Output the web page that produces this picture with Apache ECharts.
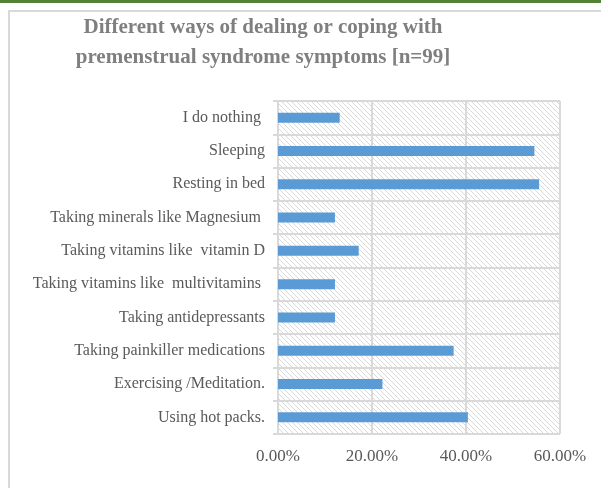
<!DOCTYPE html>
<html>
<head>
<meta charset="utf-8">
<script src="https://cdn.jsdelivr.net/npm/echarts@6/dist/echarts.min.js"></script>
<style>
html,body{margin:0;padding:0;background:#fff;}
#c{width:601px;height:488px;}
</style>
</head>
<body>
<div id="c"></div>
<script>
// Data (top category first as in the picture)
var categories = [
  'I do nothing ',
  'Sleeping',
  'Resting in bed',
  'Taking minerals like Magnesium ',
  'Taking vitamins like  vitamin D',
  'Taking vitamins like  multivitamins ',
  'Taking antidepressants',
  'Taking painkiller medications',
  'Exercising /Meditation.',
  'Using hot packs.'
];
var values = [13.13, 54.55, 55.56, 12.12, 17.17, 12.12, 12.12, 37.37, 22.22, 40.40];
var xTicks = [0, 20, 40, 60];

// hatch pattern
var pc = document.createElement('canvas');
pc.width = 5; pc.height = 5;
var g = pc.getContext('2d');
g.strokeStyle = '#d9d9d9';
g.lineWidth = 1;
g.beginPath();
g.moveTo(-1, -1); g.lineTo(6, 6);
g.moveTo(-1, 4); g.lineTo(1, 6);
g.moveTo(4, -1); g.lineTo(6, 1);
g.stroke();

var chart = echarts.init(document.getElementById('c'));
var font = '"Liberation Serif", "Times New Roman", serif';
chart.setOption({
  animation: false,
  title: {
    text: 'Different ways of dealing or coping with\npremenstrual syndrome symptoms [n=99]',
    left: 263, top: 13, textAlign: 'center', padding: 0,
    textStyle: {fontFamily: font, fontSize: 21, fontWeight: 'bold', color: '#7f7f7f', lineHeight: 30}
  },
  graphic: [
    {type: 'rect', shape: {x: 0, y: 0, width: 601, height: 3}, style: {fill: '#548235'}},
    {type: 'rect', shape: {x: 9, y: 11, width: 620, height: 500}, style: {fill: 'none', stroke: '#d9d9d9', lineWidth: 2}}
  ],
  grid: {
    left: 278, right: 41, top: 101, bottom: 54,
    show: true, backgroundColor: {image: pc, repeat: 'repeat'}, borderWidth: 0
  },
  xAxis: {
    type: 'value', min: 0, max: 60, interval: 20,
    axisLine: {show: false}, axisTick: {show: false},
    splitLine: {show: true, lineStyle: {color: '#d9d9d9', width: 2}},
    axisLabel: {
      fontFamily: font, fontSize: 17, color: '#595959', margin: 14,
      formatter: function (v) { return xTicks.indexOf(v) >= 0 ? v.toFixed(2) + '%' : ''; }
    }
  },
  yAxis: {
    type: 'category', inverse: true, data: categories,
    axisLine: {show: true, lineStyle: {color: '#d9d9d9', width: 2}},
    axisTick: {show: true, length: 5, lineStyle: {color: '#d9d9d9', width: 2}},
    splitLine: {show: true, lineStyle: {color: '#d9d9d9', width: 2}},
    axisLabel: {fontFamily: font, fontSize: 16, color: '#595959', margin: 13}
  },
  series: [{
    type: 'bar', data: values, barWidth: 10,
    itemStyle: {color: '#5b9bd5'}
  }]
});
</script>
</body>
</html>
